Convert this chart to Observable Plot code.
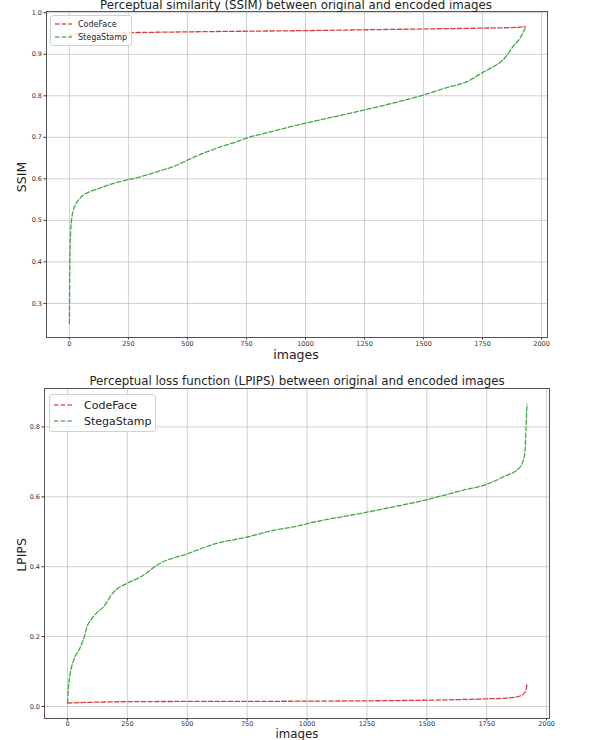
<!DOCTYPE html>
<html><head><meta charset="utf-8">
<script src="https://cdn.jsdelivr.net/npm/d3@7"></script>
<script src="https://cdn.jsdelivr.net/npm/@observablehq/plot@0.6"></script>
<style>
html,body{margin:0;padding:0;background:#fff;}
#wrap{position:relative;width:590px;height:740px;overflow:hidden;font-family:"DejaVu Sans",sans-serif;}
#wrap > div, #wrap > svg{position:absolute;}
.lg{position:absolute;background:rgba(255,255,255,0.8);border:1px solid #d0d0d0;border-radius:3px;color:#222;}
</style></head>
<body><div id="wrap"></div>
<script>
// ---- data ----
const seriesNames = ["CodeFace", "StegaStamp"];
const seriesColors = ["#d62728", "#2ca02c"];
const xTicks = [0, 250, 500, 750, 1000, 1250, 1500, 1750, 2000];
const ssimTicks = [0.3, 0.4, 0.5, 0.6, 0.7, 0.8, 0.9, 1.0];
const lpipsTicks = [0.0, 0.2, 0.4, 0.6, 0.8];

const ssimCodeIdx = [0, 10, 50, 250, 500, 1000, 1500, 1750, 1900, 1930];
const ssimCodeVal = [0.943, 0.947, 0.950, 0.952, 0.954, 0.957, 0.961, 0.963, 0.965, 0.967];
const ssimStegaIdx = [0, 2, 5, 10, 17, 25, 40, 59, 90, 130, 180, 250, 300, 377, 450, 500, 560, 624, 700, 750, 850, 977, 1000, 1125, 1250, 1375, 1500, 1600, 1684, 1750, 1783, 1839, 1881, 1910, 1931];
const ssimStegaVal = [0.252, 0.40, 0.47, 0.505, 0.525, 0.537, 0.55, 0.561, 0.57, 0.578, 0.588, 0.598, 0.605, 0.618, 0.632, 0.645, 0.66, 0.674, 0.688, 0.698, 0.713, 0.731, 0.734, 0.75, 0.766, 0.783, 0.802, 0.82, 0.834, 0.856, 0.866, 0.888, 0.92, 0.94, 0.964];

const lpipsCodeIdx = [0, 100, 300, 928, 1500, 1750, 1833, 1889, 1909, 1916, 1918];
const lpipsCodeVal = [0.010, 0.012, 0.014, 0.015, 0.018, 0.022, 0.024, 0.030, 0.040, 0.055, 0.065];
const lpipsStegaIdx = [0, 2, 4, 11, 25, 53, 70, 81, 100, 125, 150, 192, 250, 303, 387, 500, 609, 750, 860, 971, 1000, 1250, 1500, 1652, 1750, 1819, 1889, 1909, 1914, 1918];
const lpipsStegaVal = [0.011, 0.03, 0.054, 0.093, 0.131, 0.169, 0.2, 0.227, 0.25, 0.27, 0.285, 0.327, 0.353, 0.370, 0.410, 0.437, 0.464, 0.485, 0.504, 0.518, 0.523, 0.556, 0.592, 0.619, 0.636, 0.657, 0.685, 0.724, 0.80, 0.865];

// ---- build ----
const toRows = (idx, vals, s) => idx.map((x, i) => ({x, y: vals[i], s}));
const ssimRows = [...toRows(ssimCodeIdx, ssimCodeVal, seriesNames[0]), ...toRows(ssimStegaIdx, ssimStegaVal, seriesNames[1])];
const lpipsRows = [...toRows(lpipsCodeIdx, lpipsCodeVal, seriesNames[0]), ...toRows(lpipsStegaIdx, lpipsStegaVal, seriesNames[1])];

function chart(rows, opts) {
  return Plot.plot({
    width: 590, height: opts.height,
    marginLeft: opts.ml, marginRight: opts.mr, marginTop: opts.mt, marginBottom: opts.mb,
    style: {fontFamily: "DejaVu Sans, sans-serif", fontSize: "6.5px", color: "#333", background: "transparent"},
    x: {domain: opts.xd, ticks: xTicks, label: null, tickSize: 2.5, tickPadding: opts.xpad, tickFormat: d3.format("d")},
    y: {domain: opts.yd, ticks: opts.yt, label: null, tickSize: 2.5, tickPadding: 2, tickFormat: d3.format(".1f")},
    color: {domain: seriesNames, range: seriesColors},
    marks: [
      Plot.gridX(xTicks, {stroke: "#b0b0b0", strokeOpacity: 0.75, strokeWidth: 0.8}),
      Plot.gridY(opts.yt, {stroke: "#b0b0b0", strokeOpacity: 0.75, strokeWidth: 0.8}),
      Plot.line(rows, {x: "x", y: "y", z: "s", stroke: "s", strokeWidth: 1.3, strokeDasharray: "4.5,2.2", strokeOpacity: 0.9, curve: "monotone-x"}),
      Plot.frame({stroke: "#444", strokeWidth: 0.9})
    ]
  });
}

const wrap = document.getElementById("wrap");
const c1 = chart(ssimRows, {height: 360, ml: 46, mr: 43, mt: 11, mb: 23, xpad: 1.5, xd: [-97, 2025], yd: [0.218, 1.003], yt: ssimTicks});
c1.style.left = "0px"; c1.style.top = "0px";
wrap.appendChild(c1);
const c2 = chart(lpipsRows, {height: 370, ml: 44, mr: 41, mt: 18, mb: 22, xpad: 0.8, xd: [-96, 2012], yd: [-0.0344, 0.910], yt: lpipsTicks});
c2.style.left = "0px"; c2.style.top = "370px";
wrap.appendChild(c2);

// text overlay
const ns = "http://www.w3.org/2000/svg";
const ov = document.createElementNS(ns, "svg");
ov.setAttribute("width", 590); ov.setAttribute("height", 740);
ov.style.left = "0px"; ov.style.top = "0px"; ov.style.pointerEvents = "none";
function txt(s, x, y, size, rot) {
  const t = document.createElementNS(ns, "text");
  t.textContent = s;
  t.setAttribute("x", x); t.setAttribute("y", y);
  t.setAttribute("text-anchor", "middle");
  t.setAttribute("font-family", "DejaVu Sans, sans-serif");
  t.setAttribute("font-size", size);
  t.setAttribute("fill", "#222");
  if (rot) t.setAttribute("transform", `rotate(-90 ${x} ${y})`);
  ov.appendChild(t);
}
txt("Perceptual similarity (SSIM) between original and encoded images", 296, 9, 11.8);
txt("images", 296, 359, 12.5);
txt("SSIM", 26, 177, 12.5, true);
txt("Perceptual loss function (LPIPS) between original and encoded images", 297, 385, 11.8);
txt("images", 297, 737.5, 11.8);
txt("LPIPS", 26, 555, 12.5, true);
wrap.appendChild(ov);

// legends
function legend(x, y, w, h, fs, lineW, rowH, textX, y0) {
  const d = document.createElement("div");
  d.className = "lg";
  d.style.left = x + "px"; d.style.top = y + "px"; d.style.width = w + "px"; d.style.height = h + "px";
  const s = document.createElementNS(ns, "svg");
  s.setAttribute("width", w); s.setAttribute("height", h);
  seriesNames.forEach((n, i) => {
    const cy = y0 + i * rowH;
    const l = document.createElementNS(ns, "line");
    l.setAttribute("x1", 4); l.setAttribute("x2", 4 + lineW);
    l.setAttribute("y1", cy); l.setAttribute("y2", cy);
    l.setAttribute("stroke", seriesColors[i]); l.setAttribute("stroke-width", 1.4);
    l.setAttribute("stroke-dasharray", "4.5,2.2"); l.setAttribute("stroke-opacity", 0.75);
    s.appendChild(l);
    const t = document.createElementNS(ns, "text");
    t.textContent = n; t.setAttribute("x", textX); t.setAttribute("y", cy + fs * 0.36);
    t.setAttribute("font-family", "DejaVu Sans, sans-serif"); t.setAttribute("font-size", fs);
    t.setAttribute("fill", "#222");
    s.appendChild(t);
  });
  d.appendChild(s);
  wrap.appendChild(d);
}
legend(50, 15, 80, 29, 8, 17, 13, 27, 8);
legend(49, 394, 105, 36, 11, 20, 16, 34, 10);
</script></body></html>
